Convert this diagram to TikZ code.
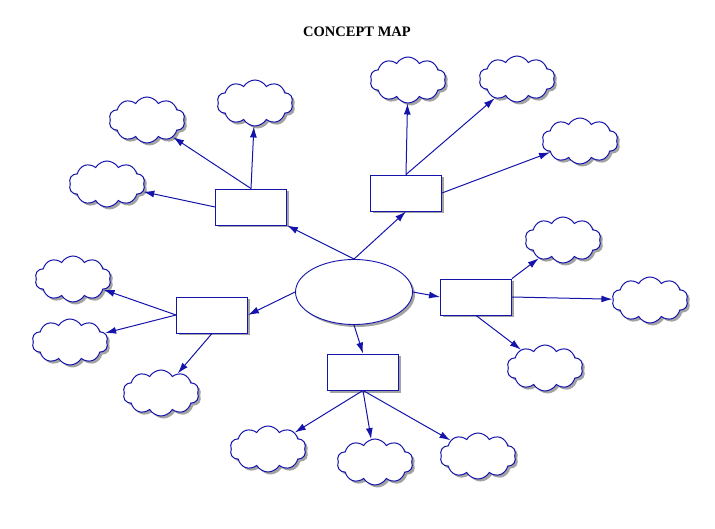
\documentclass[tikz,border=0pt]{standalone}
\usepackage{fontspec}
\setmainfont{Liberation Serif}
\usetikzlibrary{shapes.symbols,shapes.geometric,shadows,arrows.meta}
\definecolor{ln}{RGB}{20,20,170}
\begin{document}
\begin{tikzpicture}[x=1pt,y=-1pt,
 sh/.style={drop shadow={shadow xshift=2.5pt,shadow yshift=-2.5pt,fill=black!45,opacity=0.8}},
 cl/.style={cloud,cloud puffs=10,cloud puff arc=120,aspect=1.7,draw=ln,fill=white,minimum width=76pt,minimum height=46pt,inner sep=0pt,line width=1pt,sh},
 bx/.style={rectangle,draw=ln,fill=white,minimum width=71pt,minimum height=36pt,line width=0.9pt,sh},
 ar/.style={draw=ln,line width=1pt,-{Latex[length=11pt,width=7pt]}}]
\useasboundingbox (0,0) rectangle (715,529);
\node[font=\bfseries\fontsize{14.5}{16}\selectfont] (t) at (357,32) {CONCEPT MAP};
\node[ellipse,draw=ln,fill=white,line width=0.9pt,minimum width=117pt,minimum height=65pt,sh] (e) at (354,292) {};
\node[bx] (b1) at (251,207) {};
\node[bx] (b2) at (406,193) {};
\node[bx] (b3) at (476,297) {};
\node[bx] (b4) at (212,315) {};
\node[bx] (b5) at (363,372) {};
\node[cl] (c1) at (147,120) {};
\node[cl] (c2) at (255,103) {};
\node[cl] (c3) at (107,184) {};
\node[cl] (c4) at (408,80) {};
\node[cl] (c5) at (517,79) {};
\node[cl] (c6) at (580,141) {};
\node[cl] (c7) at (563,240) {};
\node[cl] (c8) at (650,300) {};
\node[cl] (c9) at (545,368) {};
\node[cl] (c10) at (73,279) {};
\node[cl] (c11) at (70,342) {};
\node[cl] (c12) at (161,393) {};
\node[cl] (c13) at (268,449) {};
\node[cl] (c14) at (375,462) {};
\node[cl] (c15) at (478,456) {};
\draw[ar] (e.north) -- (b1.south east);
\draw[ar] (e.north) -- (b2.south);
\draw[ar] (e.east) -- (b3.west);
\draw[ar] (e.west) -- (b4.east);
\draw[ar] (e.south) -- (b5.north);
\draw[ar] (b1.north) -- (c1);
\draw[ar] (b1.north) -- (c2);
\draw[ar] (b1.west) -- (c3);
\draw[ar] (b2.north) -- (c4);
\draw[ar] (b2.north) -- (c5);
\draw[ar] (b2.east) -- (c6);
\draw[ar] (b3.north east) -- (c7);
\draw[ar] (b3.east) -- (c8);
\draw[ar] (b3.south) -- (c9);
\draw[ar] (b4.west) -- (c10);
\draw[ar] (b4.west) -- (c11);
\draw[ar] (b4.south) -- (c12);
\draw[ar] (b5.south) -- (c13);
\draw[ar] (b5.south) -- (c14);
\draw[ar] (b5.south) -- (c15);
\end{tikzpicture}
\end{document}
